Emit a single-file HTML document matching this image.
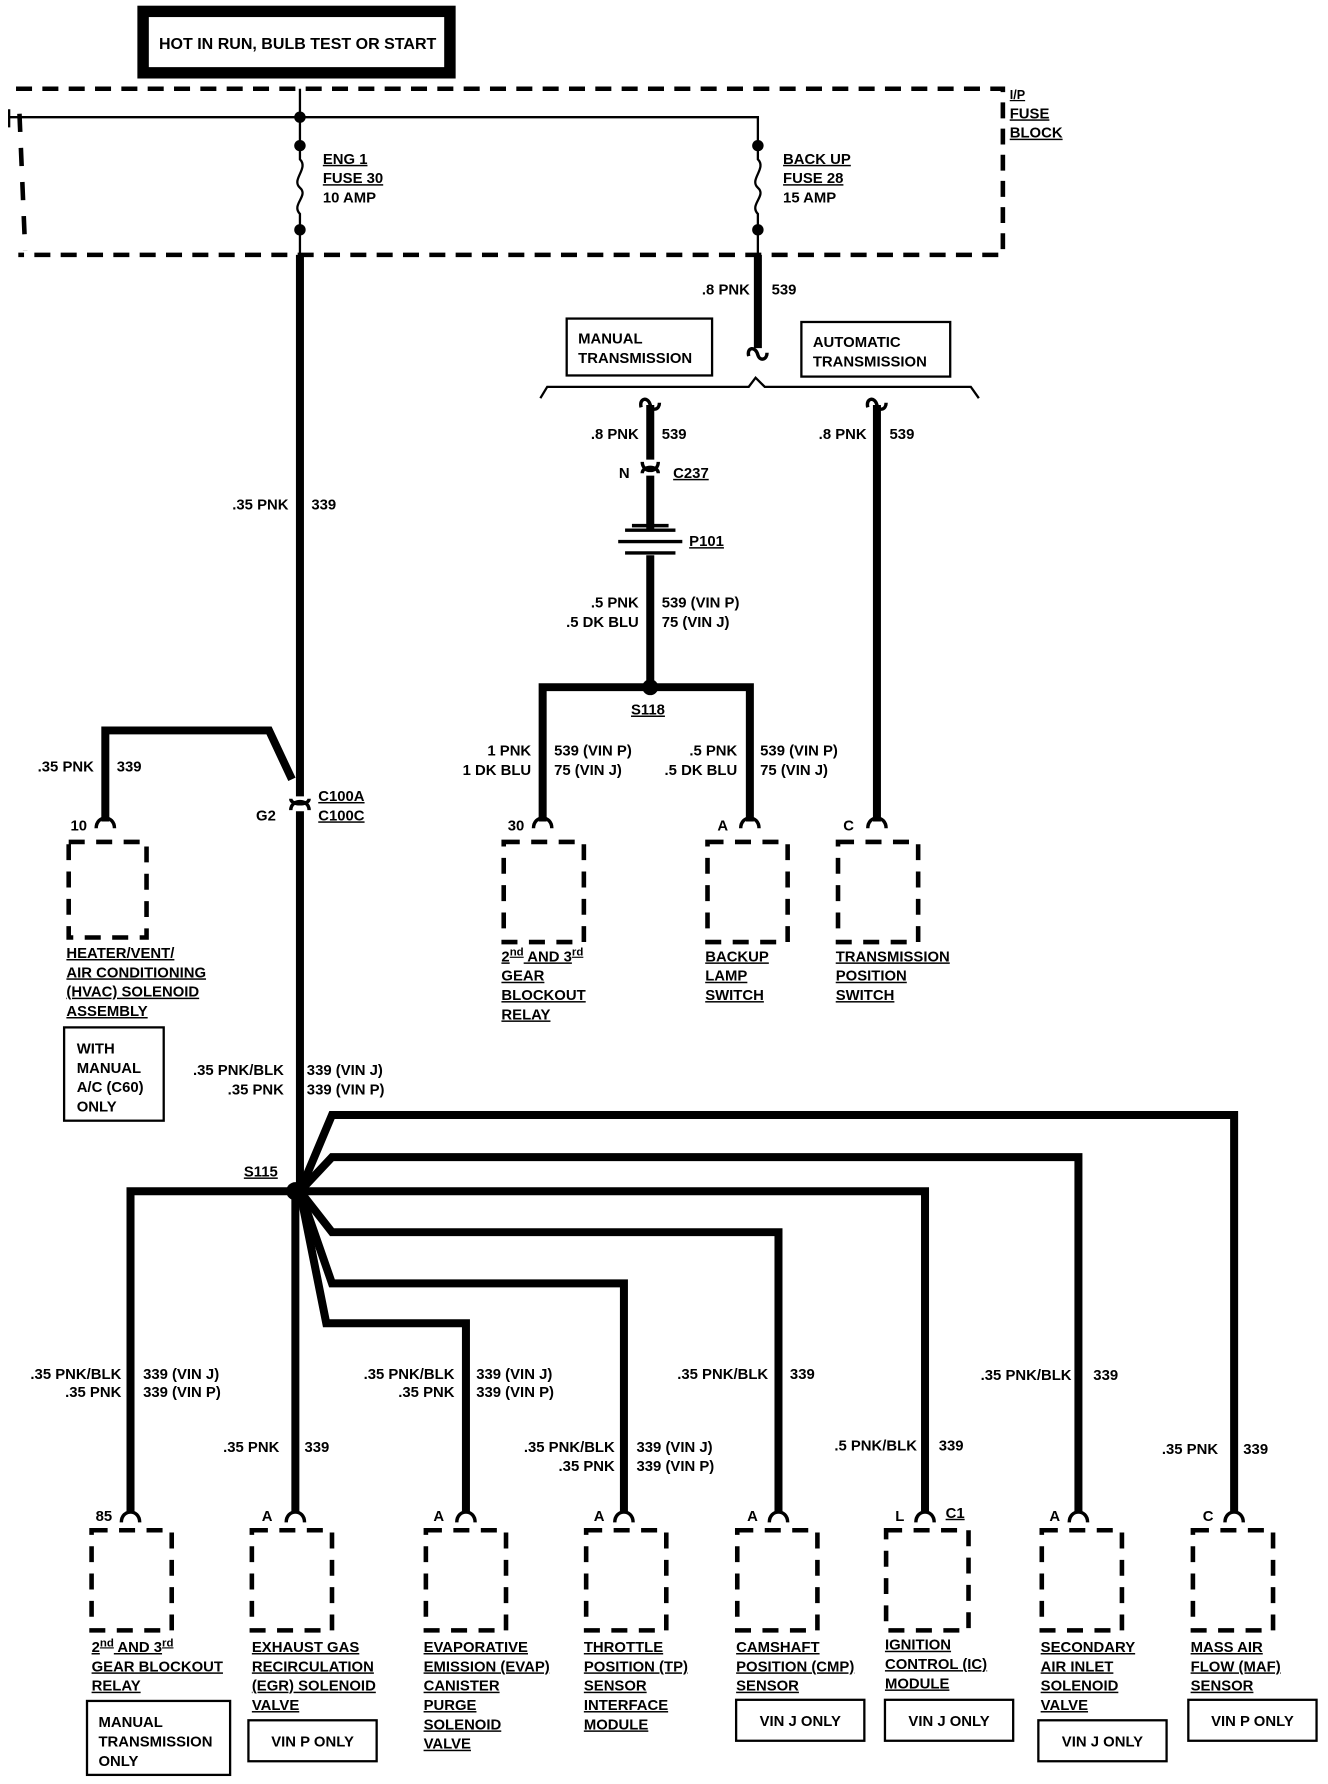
<!DOCTYPE html>
<html><head><meta charset="utf-8"><style>
html,body{margin:0;padding:0;background:#fff}
svg{display:block}
text{font-family:"Liberation Sans Narrow","Liberation Sans",sans-serif;font-weight:bold;font-size:13px;fill:#000}
.u{text-decoration:underline}
</style></head><body>
<svg width="1328" height="1784" viewBox="0 0 1160 1568" preserveAspectRatio="none" xmlns="http://www.w3.org/2000/svg">
<g fill="none" stroke="#000">
<!-- top box -->
<rect x="125" y="10" width="268" height="54" stroke-width="10"/>
<!-- fuse block dashed -->
<path d="M14 78 H876 V224 H16" stroke-width="4" stroke-dasharray="14,9"/>
<path d="M17 100 L22 220" stroke-width="4" stroke-dasharray="16,14"/>
<path d="M8 96 V112 M8 103 H662 V128" stroke-width="2"/>
<path d="M262 78 V128" stroke-width="2"/>
<!-- fuses -->
<path d="M262 128 V140 C270 148 254 158 262 165 C270 172 254 180 262 188 V202" stroke-width="2"/>
<path d="M662 128 V140 C670 148 654 158 662 165 C670 172 654 180 662 188 V202" stroke-width="2"/>
<path d="M262 202 V224 M662 202 V224" stroke-width="2"/>
<!-- main wires -->
<path d="M262 224 V700" stroke-width="7"/>
<path d="M262 713 V1047" stroke-width="7"/>
<path d="M662 224 V306" stroke-width="7"/>
<path d="M654 313 C652 305 660 304 662 312 C664 318 670 316 670 310" stroke-width="3"/>
<!-- trans boxes -->
<rect x="495" y="280" width="127" height="50" stroke-width="2"/>
<rect x="700" y="283" width="130" height="48" stroke-width="2"/>
<path d="M472 350 L478 340 H654 L660 332 L668 340 H848 L855 350" stroke-width="2"/>
<!-- manual path -->
<path d="M560 358 C558 350 566 348 568 356 C570 362 576 360 576 354" stroke-width="3"/>
<path d="M568 356 V404" stroke-width="7"/>
<path d="M561 406 C561 416 575 416 575 406 M561 416 C561 409 575 409 575 416" stroke-width="3"/>
<path d="M568 418 V465 M568 488 V604" stroke-width="7"/>
<path d="M546 466 H590 M540 476 H596 M546 486 H590 M552 462 H584" stroke-width="3"/>
<!-- auto path -->
<path d="M758 358 C756 350 764 348 766 356 C768 362 774 360 774 354" stroke-width="3"/>
<path d="M766 356 V722" stroke-width="7"/>
<!-- S118 -->
<path d="M474 722 V604 H655 V722" stroke-width="7"/>
<!-- HVAC -->
<path d="M92 722 V642 H235 L255 685" stroke-width="7"/>
<path d="M254 712 C254 702 270 702 270 712 M254 702 C254 708 270 708 270 702" stroke-width="3"/>
<!-- S115 branches -->
<path d="M262 1047 L290 980 H1078 V1330" stroke-width="7"/>
<path d="M262 1047 L290 1017 H942 V1330" stroke-width="7"/>
<path d="M262 1047 H808 V1330" stroke-width="7"/>
<path d="M262 1047 L290 1083 H680 V1330" stroke-width="7"/>
<path d="M262 1047 L290 1128 H545 V1330" stroke-width="7"/>
<path d="M262 1047 L285 1163 H407 V1330" stroke-width="7"/>
<path d="M262 1047 H114 V1330" stroke-width="7"/>
<path d="M258 1047 V1330" stroke-width="7"/>
<!-- connector arches -->
<g stroke-width="3">
<path d="M84 728 C84 716 100 716 100 728"/>
<path d="M466 728 C466 716 482 716 482 728"/>
<path d="M647 728 C647 716 663 716 663 728"/>
<path d="M758 728 C758 716 774 716 774 728"/>
<path d="M106 1338 C106 1326 122 1326 122 1338"/>
<path d="M250 1338 C250 1326 266 1326 266 1338"/>
<path d="M399 1338 C399 1326 415 1326 415 1338"/>
<path d="M537 1338 C537 1326 553 1326 553 1338"/>
<path d="M672 1338 C672 1326 688 1326 688 1338"/>
<path d="M800 1338 C800 1326 816 1326 816 1338"/>
<path d="M934 1338 C934 1326 950 1326 950 1338"/>
<path d="M1070 1338 C1070 1326 1086 1326 1086 1338"/>
</g>
<!-- dashed component boxes -->
<g stroke-width="4" stroke-dasharray="14,10">
<rect x="60" y="740" width="68" height="84"/>
<rect x="440" y="740" width="70" height="88"/>
<rect x="618" y="740" width="70" height="88"/>
<rect x="732" y="740" width="70" height="88"/>
<rect x="80" y="1345" width="70" height="88"/>
<rect x="220" y="1345" width="70" height="88"/>
<rect x="372" y="1345" width="70" height="88"/>
<rect x="512" y="1345" width="70" height="88"/>
<rect x="644" y="1345" width="70" height="88"/>
<rect x="774" y="1345" width="72" height="88"/>
<rect x="910" y="1345" width="70" height="88"/>
<rect x="1042" y="1345" width="70" height="88"/>
</g>
<!-- note boxes -->
<g stroke-width="2">
<rect x="56" y="903" width="87" height="82"/>
<rect x="76" y="1495" width="125" height="65"/>
<rect x="217" y="1512" width="112" height="36"/>
<rect x="643" y="1494" width="112" height="36"/>
<rect x="773" y="1494" width="112" height="36"/>
<rect x="907" y="1512" width="112" height="36"/>
<rect x="1038" y="1494" width="112" height="36"/>
</g>
</g>
<!-- dots -->
<g fill="#000">
<circle cx="262" cy="103" r="5"/><circle cx="262" cy="128" r="5"/><circle cx="262" cy="202" r="5"/>
<circle cx="662" cy="128" r="5"/><circle cx="662" cy="202" r="5"/>
<circle cx="568" cy="604" r="7"/><circle cx="258" cy="1047" r="8"/>
</g>
<!-- texts -->
<text x="260" y="43" text-anchor="middle" style="font-size:14px">HOT IN RUN, BULB TEST OR START</text>
<text x="282" y="144" class="u">ENG 1</text><text x="282" y="161" class="u">FUSE 30</text><text x="282" y="178">10 AMP</text>
<text x="684" y="144" class="u">BACK UP</text><text x="684" y="161" class="u">FUSE 28</text><text x="684" y="178">15 AMP</text>
<text x="882" y="87" class="u" style="font-size:11px">I/P</text><text x="882" y="104" class="u">FUSE</text><text x="882" y="121" class="u">BLOCK</text>
<text x="655" y="259" text-anchor="end">.8 PNK</text><text x="674" y="259">539</text>
<text x="505" y="302">MANUAL</text><text x="505" y="319">TRANSMISSION</text>
<text x="710" y="305">AUTOMATIC</text><text x="710" y="322">TRANSMISSION</text>
<text x="558" y="386" text-anchor="end">.8 PNK</text><text x="578" y="386">539</text>
<text x="757" y="386" text-anchor="end">.8 PNK</text><text x="777" y="386">539</text>
<text x="550" y="420" text-anchor="end">N</text><text x="588" y="420" class="u">C237</text>
<text x="602" y="480" class="u">P101</text>
<text x="558" y="534" text-anchor="end">.5 PNK</text><text x="578" y="534">539  (VIN P)</text>
<text x="558" y="551" text-anchor="end">.5 DK BLU</text><text x="578" y="551">75  (VIN J)</text>
<text x="566" y="628" text-anchor="middle" class="u">S118</text>
<text x="464" y="664" text-anchor="end">1 PNK</text><text x="484" y="664">539  (VIN P)</text>
<text x="464" y="681" text-anchor="end">1 DK BLU</text><text x="484" y="681">75  (VIN J)</text>
<text x="644" y="664" text-anchor="end">.5 PNK</text><text x="664" y="664">539  (VIN P)</text>
<text x="644" y="681" text-anchor="end">.5 DK BLU</text><text x="664" y="681">75  (VIN J)</text>
<text x="252" y="448" text-anchor="end">.35 PNK</text><text x="272" y="448">339</text>
<text x="82" y="678" text-anchor="end">.35 PNK</text><text x="102" y="678">339</text>
<text x="278" y="704" class="u">C100A</text><text x="278" y="721" class="u">C100C</text>
<text x="241" y="721" text-anchor="end">G2</text>
<text x="76" y="730" text-anchor="end">10</text>
<text x="458" y="730" text-anchor="end">30</text>
<text x="636" y="730" text-anchor="end">A</text>
<text x="746" y="730" text-anchor="end">C</text>
<text x="58" y="842" class="u">HEATER/VENT/</text><text x="58" y="859" class="u">AIR CONDITIONING</text><text x="58" y="876" class="u">(HVAC) SOLENOID</text><text x="58" y="893" class="u">ASSEMBLY</text>
<text x="67" y="926">WITH</text><text x="67" y="943">MANUAL</text><text x="67" y="960">A/C (C60)</text><text x="67" y="977">ONLY</text>
<text x="438" y="845" class="u">2<tspan dy="-5" style="font-size:10px">nd</tspan><tspan dy="5"> AND 3</tspan><tspan dy="-5" style="font-size:10px">rd</tspan></text>
<text x="438" y="862" class="u">GEAR</text><text x="438" y="879" class="u">BLOCKOUT</text><text x="438" y="896" class="u">RELAY</text>
<text x="616" y="845" class="u">BACKUP</text><text x="616" y="862" class="u">LAMP</text><text x="616" y="879" class="u">SWITCH</text>
<text x="730" y="845" class="u">TRANSMISSION</text><text x="730" y="862" class="u">POSITION</text><text x="730" y="879" class="u">SWITCH</text>
<text x="248" y="945" text-anchor="end">.35 PNK/BLK</text><text x="268" y="945">339  (VIN J)</text>
<text x="248" y="962" text-anchor="end">.35 PNK</text><text x="268" y="962">339  (VIN P)</text>
<text x="213" y="1034" class="u">S115</text>
<text x="106" y="1212" text-anchor="end">.35 PNK/BLK</text><text x="125" y="1212">339  (VIN J)</text>
<text x="106" y="1228" text-anchor="end">.35 PNK</text><text x="125" y="1228">339  (VIN P)</text>
<text x="244" y="1276" text-anchor="end">.35 PNK</text><text x="266" y="1276">339</text>
<text x="397" y="1212" text-anchor="end">.35 PNK/BLK</text><text x="416" y="1212">339  (VIN J)</text>
<text x="397" y="1228" text-anchor="end">.35 PNK</text><text x="416" y="1228">339  (VIN P)</text>
<text x="537" y="1276" text-anchor="end">.35 PNK/BLK</text><text x="556" y="1276">339  (VIN J)</text>
<text x="537" y="1293" text-anchor="end">.35 PNK</text><text x="556" y="1293">339  (VIN P)</text>
<text x="671" y="1212" text-anchor="end">.35 PNK/BLK</text><text x="690" y="1212">339</text>
<text x="801" y="1275" text-anchor="end">.5 PNK/BLK</text><text x="820" y="1275">339</text>
<text x="936" y="1213" text-anchor="end">.35 PNK/BLK</text><text x="955" y="1213">339</text>
<text x="1064" y="1278" text-anchor="end">.35 PNK</text><text x="1086" y="1278">339</text>
<text x="98" y="1337" text-anchor="end">85</text>
<text x="238" y="1337" text-anchor="end">A</text>
<text x="388" y="1337" text-anchor="end">A</text>
<text x="528" y="1337" text-anchor="end">A</text>
<text x="662" y="1337" text-anchor="end">A</text>
<text x="790" y="1337" text-anchor="end">L</text><text x="826" y="1334" class="u">C1</text>
<text x="926" y="1337" text-anchor="end">A</text>
<text x="1060" y="1337" text-anchor="end">C</text>
<text x="80" y="1452" class="u">2<tspan dy="-5" style="font-size:10px">nd</tspan><tspan dy="5"> AND 3</tspan><tspan dy="-5" style="font-size:10px">rd</tspan></text>
<text x="80" y="1469" class="u">GEAR BLOCKOUT</text><text x="80" y="1486" class="u">RELAY</text>
<text x="86" y="1518">MANUAL</text><text x="86" y="1535">TRANSMISSION</text><text x="86" y="1552">ONLY</text>
<text x="220" y="1452" class="u">EXHAUST GAS</text><text x="220" y="1469" class="u">RECIRCULATION</text><text x="220" y="1486" class="u">(EGR) SOLENOID</text><text x="220" y="1503" class="u">VALVE</text>
<text x="273" y="1535" text-anchor="middle">VIN P ONLY</text>
<text x="370" y="1452" class="u">EVAPORATIVE</text><text x="370" y="1469" class="u">EMISSION (EVAP)</text><text x="370" y="1486" class="u">CANISTER</text><text x="370" y="1503" class="u">PURGE</text><text x="370" y="1520" class="u">SOLENOID</text><text x="370" y="1537" class="u">VALVE</text>
<text x="510" y="1452" class="u">THROTTLE</text><text x="510" y="1469" class="u">POSITION (TP)</text><text x="510" y="1486" class="u">SENSOR</text><text x="510" y="1503" class="u">INTERFACE</text><text x="510" y="1520" class="u">MODULE</text>
<text x="643" y="1452" class="u">CAMSHAFT</text><text x="643" y="1469" class="u">POSITION (CMP)</text><text x="643" y="1486" class="u">SENSOR</text>
<text x="699" y="1517" text-anchor="middle">VIN J ONLY</text>
<text x="773" y="1450" class="u">IGNITION</text><text x="773" y="1467" class="u">CONTROL (IC)</text><text x="773" y="1484" class="u">MODULE</text>
<text x="829" y="1517" text-anchor="middle">VIN J ONLY</text>
<text x="909" y="1452" class="u">SECONDARY</text><text x="909" y="1469" class="u">AIR INLET</text><text x="909" y="1486" class="u">SOLENOID</text><text x="909" y="1503" class="u">VALVE</text>
<text x="963" y="1535" text-anchor="middle">VIN J ONLY</text>
<text x="1040" y="1452" class="u">MASS AIR</text><text x="1040" y="1469" class="u">FLOW (MAF)</text><text x="1040" y="1486" class="u">SENSOR</text>
<text x="1094" y="1517" text-anchor="middle">VIN P ONLY</text>
</svg>
</body></html>
